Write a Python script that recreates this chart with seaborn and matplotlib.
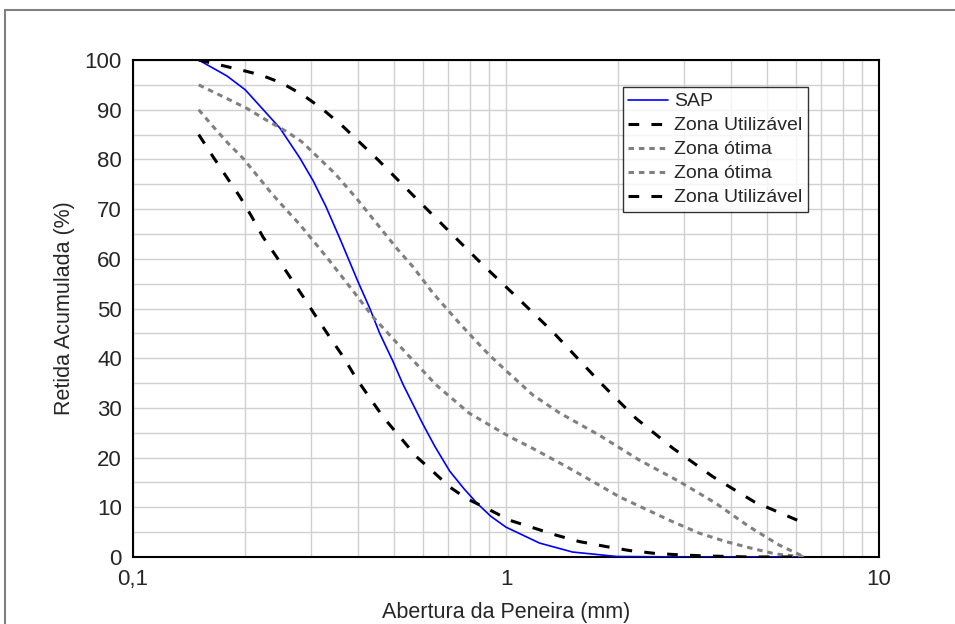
import numpy as np
import pandas as pd
import seaborn as sns
import matplotlib.pyplot as plt
from matplotlib.patches import Rectangle
from matplotlib.ticker import LogLocator, NullFormatter, MultipleLocator

# curva granulometrica da amostra (SAP)
sap_x = [0.15, 0.1785, 0.2, 0.2476, 0.28, 0.304, 0.3286, 0.358, 0.401, 0.4315, 0.4585,
         0.4974, 0.529, 0.597, 0.644, 0.706, 0.77, 0.834, 0.91, 1.0, 1.23, 1.507,
         1.98, 3.0, 6.3]
sap_y = [100, 96.8, 94.0, 86.3, 80.3, 75.7, 70.6, 64.2, 55.4, 50.0, 45.0,
         39.4, 34.8, 26.9, 22.3, 17.3, 13.8, 10.9, 8.2, 6.0, 2.8, 1.0,
         0.1, 0, 0]

# zona utilizavel - limite superior
util_sup_x = [0.15, 0.19, 0.22, 0.25, 0.285, 0.32, 0.366, 0.454, 0.563, 0.698,
              0.858, 1.065, 1.335, 1.8, 2.23, 2.8, 3.58, 4.63, 6.04, 6.3]
util_sup_y = [100, 98.2, 97, 95.4, 93, 90.3, 86.6, 79.9, 72.8, 65.8,
              59.1, 52.4, 45.3, 34.9, 27.9, 21.9, 16.2, 11.1, 7.4, 7.1]

# zona otima - limite superior
otima_sup_x = [0.15, 0.178, 0.2016, 0.228, 0.258, 0.283, 0.3474, 0.397, 0.473, 0.5134,
               0.563, 0.637, 0.751, 0.849, 0.903, 1.0, 1.18, 1.391, 1.779, 2.277,
               2.914, 3.654, 4.487, 5.40, 6.23, 6.3]
otima_sup_y = [95, 92.3, 90.3, 87.9, 85.6, 83.6, 77.2, 72.2, 65.1, 61.8,
               58.4, 53.1, 47.0, 42.7, 40.6, 37.5, 32.6, 29.0, 24.5, 19.5,
               15.2, 10.8, 6.1, 2.4, 0.2, 0]

# zona otima - limite inferior
otima_inf_x = [0.15, 0.164, 0.18, 0.1974, 0.2165, 0.235, 0.258, 0.280, 0.330, 0.381,
               0.440, 0.5405, 0.650, 0.798, 1.022, 1.156, 1.419, 1.708, 2.014,
               2.373, 2.797, 3.296, 3.886, 4.58, 5.29, 6.3]
otima_inf_y = [90, 86.6, 83.2, 80.2, 76.5, 73.2, 69.8, 66.9, 60.4, 54.4,
               48.3, 41.0, 34.6, 28.9, 24.2, 22.2, 18.6, 15.2, 12.1,
               9.6, 7.1, 4.8, 3.1, 1.7, 0.6, 0]

# zona utilizavel - limite inferior
util_inf_x = [0.15, 0.164, 0.178, 0.1934, 0.208, 0.223, 0.2425, 0.2857, 0.310, 0.337,
              0.366, 0.397, 0.468, 0.519, 0.575, 0.637, 0.706, 0.782, 0.903, 1.022,
              1.18, 1.362, 1.573, 1.854, 2.142, 2.524, 2.974, 3.436, 4.5, 6.3]
util_inf_y = [85, 80.5, 76.5, 72.5, 68.5, 64.4, 60.4, 52.4, 48.3, 44.2,
              40.3, 35.9, 28.2, 24.2, 20.2, 17.2, 14.1, 11.8, 9.5, 7.4,
              5.9, 4.4, 3.1, 2.1, 1.3, 0.7, 0.4, 0.2, 0, 0]

x_ticks = [0.1, 1, 10]
x_tick_labels = ['0,1', '1', '10']
y_ticks = [0, 10, 20, 30, 40, 50, 60, 70, 80, 90, 100]

sns.set_style('white')
plt.rcParams['font.family'] = ['Liberation Sans', 'DejaVu Sans']
plt.rcParams['font.size'] = 14

fig = plt.figure(figsize=(9.55, 6.24), dpi=100)
ax = fig.add_axes([0.1393, 0.1074, 0.7811, 0.7964])

series = [
    (sap_x, sap_y, 'SAP', '#0000ff', 1.2, '-'),
    (util_sup_x, util_sup_y, 'Zona Utilizável', 'black', 2.2, (0, (3.5, 4))),
    (otima_sup_x, otima_sup_y, 'Zona ótima', '#808080', 2.2, (0, (1.8, 1.6))),
    (otima_inf_x, otima_inf_y, 'Zona ótima', '#808080', 2.2, (0, (1.8, 1.6))),
    (util_inf_x, util_inf_y, 'Zona Utilizável', 'black', 2.2, (0, (3.5, 4))),
]
for xs, ys, lab, cor, lw, ls in series:
    df = pd.DataFrame({'x': xs, 'y': ys})
    sns.lineplot(data=df, x='x', y='y', ax=ax, color=cor, linewidth=lw,
                 linestyle=ls, label=lab, sort=False, estimator=None, zorder=3)

ax.set_xscale('log')
ax.set_xlim(0.1, 10)
ax.set_ylim(0, 100)
ax.set_xticks(x_ticks)
ax.set_xticklabels(x_tick_labels)
ax.xaxis.set_minor_locator(LogLocator(base=10, subs=np.arange(2, 10)))
ax.xaxis.set_minor_formatter(NullFormatter())
ax.set_yticks(y_ticks)
ax.yaxis.set_minor_locator(MultipleLocator(5))

ax.grid(True, which='both', color='#d0d0d0', linewidth=1.0, zorder=0)
ax.set_axisbelow(True)
ax.tick_params(which='major', direction='in', length=7, width=1.5,
               labelsize=16, top=False, right=False)
ax.tick_params(axis='x', which='major', pad=9)
ax.tick_params(axis='y', which='major', pad=8)
ax.tick_params(which='minor', direction='in', length=3.5, width=1.5,
               top=False, right=False)
for s in ax.spines.values():
    s.set_visible(True)
    s.set_color('black')
    s.set_linewidth(1.5)

ax.set_xlabel('Abertura da Peneira (mm)', fontsize=15.5, labelpad=8)
ax.set_ylabel('Retida Acumulada (%)', fontsize=15.5, labelpad=7)

leg = ax.legend(loc='upper right', bbox_to_anchor=(0.905, 0.946),
                borderaxespad=0, fontsize=14, frameon=True, fancybox=False,
                handlelength=2.05, handletextpad=0.3, labelspacing=0.33,
                borderpad=0.3)
leg.get_frame().set_edgecolor('black')
leg.get_frame().set_linewidth(1.0)

# moldura externa
fig.patches.append(Rectangle((4.5 / 955, -0.1), 1.2, 1.1 - 10 / 624,
                             transform=fig.transFigure, fill=False,
                             edgecolor='#808080', linewidth=1.5))

fig.savefig('out.png', dpi=100)
